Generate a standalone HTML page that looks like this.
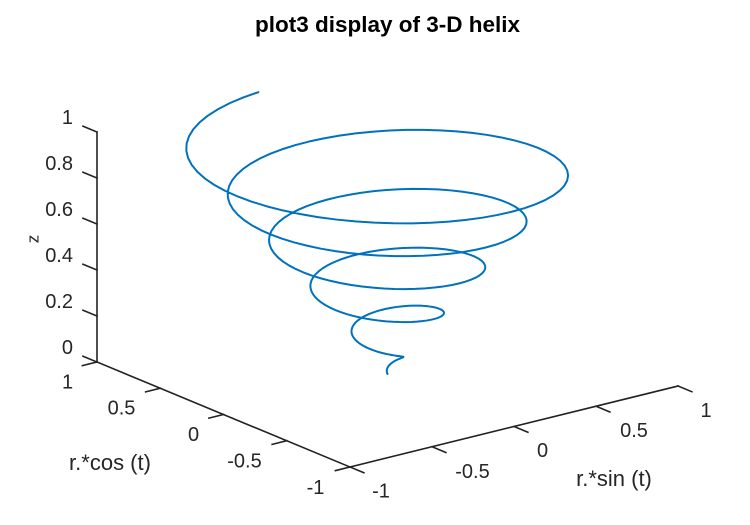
<!DOCTYPE html>
<html>
<head>
<meta charset="utf-8">
<style>
html,body{margin:0;padding:0;background:#fff;}
svg{display:block;}
text{font-family:"Liberation Sans",Arial,Helvetica,sans-serif;fill:#262626;}
</style>
</head>
<body>
<svg id="s" width="750" height="525" viewBox="0 0 750 525" xmlns="http://www.w3.org/2000/svg">
<rect width="750" height="525" fill="#fff"/>
<text x="387.5" y="32" font-size="22.5" font-weight="bold" text-anchor="middle" fill="#000" style="fill:#000">plot3 display of 3-D helix</text>

<g stroke="#222" stroke-width="1.6" fill="none" stroke-linecap="square">
  <!-- z axis -->
  <line x1="97" y1="362" x2="97" y2="132"/>
  <!-- cos axis -->
  <line x1="97" y1="362" x2="350" y2="467"/>
  <!-- sin axis -->
  <line x1="350" y1="467" x2="678" y2="386"/>
  <!-- z ticks -->
  <path d="M97,362 l-14,-5.8 M97,316 l-14,-5.8 M97,270 l-14,-5.8 M97,224 l-14,-5.8 M97,178 l-14,-5.8 M97,132 l-14,-5.8"/>
  <!-- cos ticks -->
  <path d="M97,362 l-14.6,3.6 M160.25,388.25 l-14.6,3.6 M223.5,414.5 l-14.6,3.6 M286.75,440.75 l-14.6,3.6 M350,467 l-14.6,3.6"/>
  <!-- sin ticks -->
  <path d="M350,467 l13.9,5.75 M432,446.75 l13.9,5.75 M514,426.5 l13.9,5.75 M596,406.25 l13.9,5.75 M678,386 l13.9,5.75"/>
</g>

<g font-size="20">
  <g text-anchor="end">
    <text x="73" y="124">1</text>
    <text x="73" y="170">0.8</text>
    <text x="73" y="216">0.6</text>
    <text x="73" y="262">0.4</text>
    <text x="73" y="308">0.2</text>
    <text x="73" y="354">0</text>
  </g>
  <g text-anchor="middle">
    <text x="67.5" y="388.5">1</text>
    <text x="121.5" y="414.5">0.5</text>
    <text x="193.5" y="441">0</text>
    <text x="244.5" y="467.5">-0.5</text>
    <text x="315.5" y="494">-1</text>

    <text x="381" y="497.5">-1</text>
    <text x="472.5" y="478">-0.5</text>
    <text x="542.5" y="457">0</text>
    <text x="634" y="437">0.5</text>
    <text x="706" y="417">1</text>
  </g>
</g>
<text x="110" y="470" font-size="22" text-anchor="middle">r.*cos (t)</text>
<text x="614" y="486" font-size="22" text-anchor="middle">r.*sin (t)</text>
<text transform="translate(38.5,239) rotate(-90)" font-size="17" text-anchor="middle">z</text>

<path id="helix" d="" fill="none" stroke="#0072bd" stroke-width="2" stroke-linejoin="round" stroke-linecap="round"/>
</svg>
<script>
(function(){
  var O=[387.5,374], ex=[-126.5,-52.5], ey=[164,-40.5], ez=[0,-230];
  var n=315, d='';
  for(var i=0;i<n;i++){
    var t=0.1*i, r=i/(n-1);
    var X=r*Math.sin(t), Y=r*Math.cos(t), z=r;
    var px=O[0]+Y*ex[0]+X*ey[0]+z*ez[0];
    var py=O[1]+Y*ex[1]+X*ey[1]+z*ez[1];
    d+=(i?'L':'M')+px.toFixed(2)+','+py.toFixed(2);
  }
  document.getElementById('helix').setAttribute('d',d);
})();
</script>
</body>
</html>
